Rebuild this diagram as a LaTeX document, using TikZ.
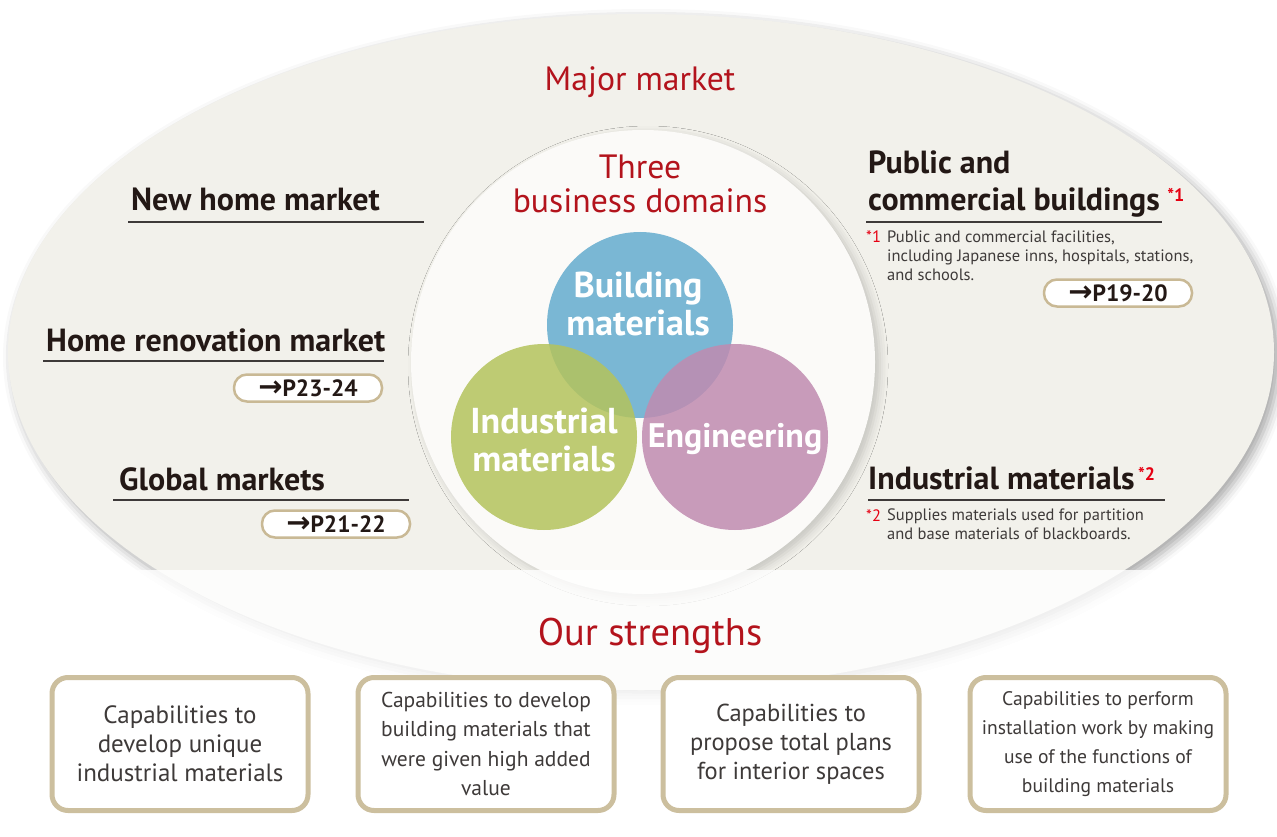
\documentclass[tikz,border=0pt]{standalone}
\usepackage{fontspec}
\setmainfont{PT Sans}
\newfontfamily\arrowfont{DejaVu Sans}
\usetikzlibrary{shadows.blur}

\begin{document}
\begin{tikzpicture}[x=1pt,y=-1pt,
  market/.style={anchor=base west, inner sep=0pt, text=colorhead, font=\bfseries\fontsize{32}{34}\selectfont},
  starmark/.style={anchor=base west, inner sep=0pt, text=colorstar, font=\bfseries\fontsize{18}{18}\selectfont},
  footnote/.style={anchor=north west, inner sep=0pt, align=left, text=colornote, font=\fontsize{16.5}{18.7}\selectfont},
  pagepill/.style={draw=colorpill, line width=2.5pt, fill=white, rounded corners=13pt, minimum width=148pt, minimum height=27pt, inner sep=0pt, text=colorhead, font=\bfseries\fontsize{23.5}{23.5}\selectfont},
  domaincircle/.style={circle, minimum size=186pt, inner sep=0pt},
  domaintext/.style={align=center, inner sep=0pt, text=white, font=\bfseries\fontsize{36}{38}\selectfont},
  strengthbox/.style={draw=colorbox, line width=5pt, fill=white, rounded corners=16pt, minimum width=256pt, minimum height=133pt, inner sep=0pt, align=center, text=colornote},
  redtitle/.style={align=center, inner sep=0pt, text=colortitle, font=\fontsize{33.7}{34.5}\selectfont},
  underline/.style={line width=1.3pt, color=colorrule}]
% Define colors
\definecolor{colorell}{HTML}{F2F1EB}
\definecolor{colorinner}{HTML}{FBFAF8}
\definecolor{colorbuild}{HTML}{7AB7D4}
\definecolor{colorind}{HTML}{B4C35C}
\definecolor{coloreng}{HTML}{C08BB0}
\definecolor{colortitle}{HTML}{B3131C}
\definecolor{colorhead}{HTML}{231815}
\definecolor{colornote}{HTML}{3E3A39}
\definecolor{colorstar}{HTML}{E60012}
\definecolor{colorrule}{HTML}{3E3A39}
\definecolor{colorpill}{HTML}{C9B995}
\definecolor{colorbox}{HTML}{CCBF9E}
\useasboundingbox (0,0) rectangle (1277,837);
  %%%%%%%%%%The market and the domains
  %Ellipse and circle
  \fill[colorell, blur shadow={shadow xshift=5pt, shadow yshift=-5pt, shadow blur radius=10pt, shadow opacity=35}] (641,352) ellipse [x radius=633pt, y radius=338pt];
  \fill[colorinner, blur shadow={shadow xshift=5pt, shadow yshift=-4pt, shadow blur radius=8pt, shadow opacity=18}] (643,362) circle [radius=232pt];
  %Domains
  \node[domaincircle, fill=colorbuild] (build) at (640,325) {};
  \node[domaincircle, fill=colorind, fill opacity=0.85] (ind) at (544,437) {};
  \node[domaincircle, fill=coloreng, fill opacity=0.85] (eng) at (735,437) {};
  \node[domaintext] (buildtext) at (638,304) {Building\\materials};
  \node[domaintext] (indtext) at (544,440) {Industrial\\materials};
  \node[domaintext, font=\bfseries\fontsize{34}{38}\selectfont] (engtext) at (735,439) {Engineering};
  %Titles
  \node[redtitle] (major) at (640,82) {Major market};
  \node[redtitle] (domains) at (640,184) {Three\\business domains};
  %%%%%%%%%%Markets
  \node[market] (newhome) at (131,211) {New home market};
  \draw[underline] (128,222) -- (424,222);
  \node[market] (renov) at (46,351) {Home renovation market};
  \draw[underline] (43,361) -- (384,361);
  \node[pagepill] (renovpage) at (308,388) {{\arrowfont\bfseries\fontsize{29}{29}\selectfont →}P23-24};
  \node[market] (global) at (119,490) {Global markets};
  \draw[underline] (113,500) -- (409,500);
  \node[pagepill] (globalpage) at (336,524) {{\arrowfont\bfseries\fontsize{29}{29}\selectfont →}P21-22};
  \node[market] (public) at (868,174) {Public and};
  \node[market] (commercial) at (868,211) {commercial buildings};
  \node[starmark] (publicstar) at ([xshift=7pt, yshift=9pt]commercial.base east) {*1};
  \draw[underline] (866,222) -- (1162,222);
  \node[footnote, text=colorstar] (publicnotestar) at (866,231) {*1};
  \node[footnote] (publicnote) at (887,231) {Public and commercial facilities,\\including Japanese inns, hospitals, stations,\\and schools.};
  \node[pagepill] (publicpage) at (1118,293) {{\arrowfont\bfseries\fontsize{29}{29}\selectfont →}P19-20};
  \node[market] (indmat) at (868,489) {Industrial materials};
  \node[starmark] (indstar) at ([xshift=3pt, yshift=9pt]indmat.base east) {*2};
  \draw[underline] (868,500) -- (1165,500);
  \node[footnote, text=colorstar] (indnotestar) at (866,509) {*2};
  \node[footnote] (indnote) at (887,509) {Supplies materials used for partition\\and base materials of blackboards.};
  %%%%%%%%%%Strengths
  \fill[white, fill opacity=0.8, rounded corners=12pt] (7,570) rectangle (1275,835);
  \node[redtitle, font=\fontsize{38.5}{40}\selectfont] (strengths) at (650,636) {Our strengths};
  \node[strengthbox, font=\fontsize{25}{29}\selectfont] (capind) at (180,744) {Capabilities to\\develop unique\\industrial materials};
  \node[strengthbox, font=\fontsize{21.5}{29.5}\selectfont] (capbuild) at (486,744) {Capabilities to develop\\building materials that\\were given high added\\value};
  \node[strengthbox, font=\fontsize{24.5}{29}\selectfont] (capplan) at (791,744) {Capabilities to\\propose total plans\\for interior spaces};
  \node[strengthbox, font=\fontsize{19.6}{29}\selectfont] (capwork) at (1098,744) {Capabilities to perform\\installation work by making\\use of the functions of\\building materials};
\end{tikzpicture}
\end{document}
